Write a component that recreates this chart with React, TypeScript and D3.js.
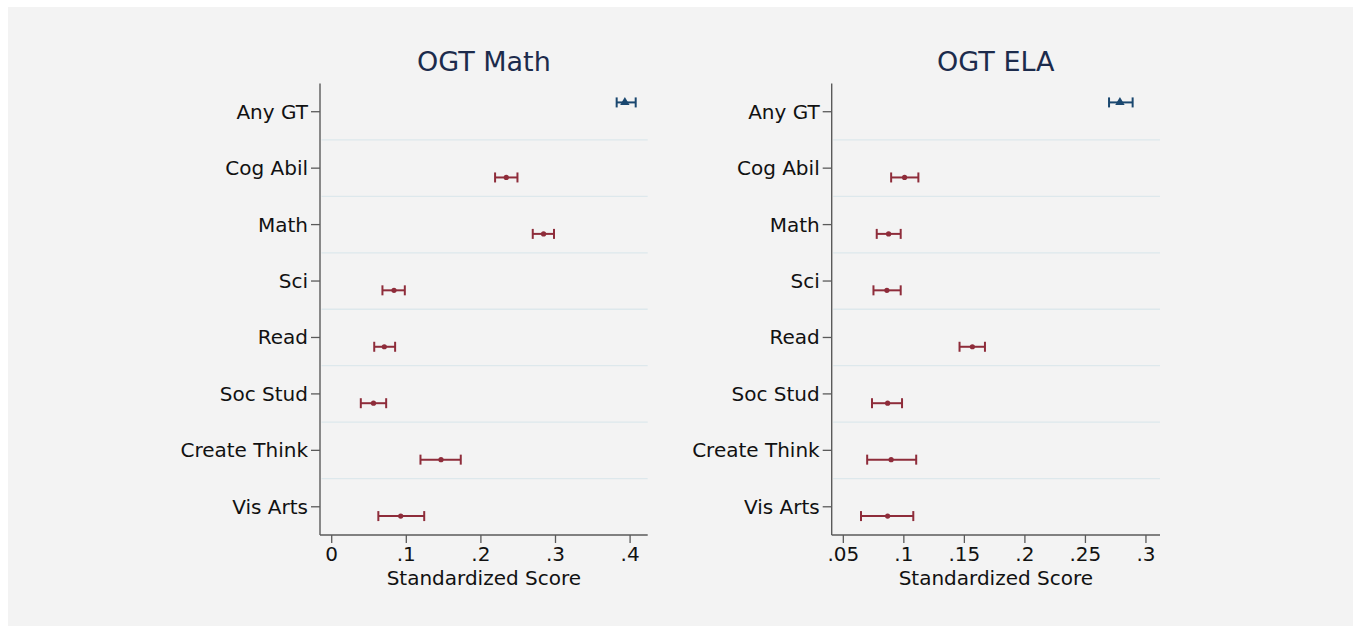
import React from 'react';
import * as d3 from 'd3';

// categories shown on the y axis (top to bottom)
const categories = ['Any GT', 'Cog Abil', 'Math', 'Sci', 'Read', 'Soc Stud', 'Create Think', 'Vis Arts'];

// OGT Math: point estimate and confidence interval
const mathEst = [0.393, 0.234, 0.284, 0.0835, 0.0705, 0.056, 0.1465, 0.0925];
const mathLo = [0.382, 0.219, 0.2695, 0.068, 0.057, 0.039, 0.119, 0.0625];
const mathHi = [0.4075, 0.249, 0.298, 0.098, 0.085, 0.073, 0.173, 0.124];
const mathTicks = [0, 0.1, 0.2, 0.3, 0.4];
const mathTickLabels = ['0', '.1', '.2', '.3', '.4'];
const mathDomain = [-0.0157, 0.4236];

// OGT ELA
const elaEst = [0.2785, 0.1006, 0.0874, 0.086, 0.1566, 0.0866, 0.0895, 0.0866];
const elaLo = [0.2695, 0.0895, 0.0776, 0.0749, 0.146, 0.0737, 0.0697, 0.0646];
const elaHi = [0.289, 0.112, 0.0974, 0.0974, 0.167, 0.0985, 0.1102, 0.1078];
const elaTicks = [0.05, 0.1, 0.15, 0.2, 0.25, 0.3];
const elaTickLabels = ['.05', '.1', '.15', '.2', '.25', '.3'];
const elaDomain = [0.0404, 0.3116];

// the two kinds of coefficient: overall GT vs. individual domains
const seriesNames = ['gt', 'domain'];

const W = 1353;
const H = 626;
const top = 83.5;
const bottom = 535;
const font = 'DejaVu Sans, Verdana, sans-serif';
const red = '#8e2c3a';
const blue = '#1a476f';
const axisColor = '#5a5a5a';

type PanelProps = {
  title: string;
  est: number[];
  lo: number[];
  hi: number[];
  domain: number[];
  ticks: number[];
  tickLabels: string[];
  x0: number;
  x1: number;
};

const Panel = ({ title, est, lo, hi, domain, ticks, tickLabels, x0, x1 }: PanelProps) => {
  const x = d3.scaleLinear().domain(domain).range([x0, x1]);
  const y = d3.scaleBand().domain(categories).range([top, bottom]);
  const mid = (c: string) => (y(c) ?? 0) + y.bandwidth() / 2;
  const off = d3.scalePoint().domain(seriesNames).range([-9.3, 9.3]);
  const tri = d3.symbol(d3.symbolTriangle, 38)() ?? '';

  return (
    <g>
      <text x={(x0 + x1) / 2} y={71} textAnchor="middle" fontSize={27} fill="#1c2b4c" fontFamily={font}>
        {title}
      </text>

      {/* gridlines between categories */}
      {categories.slice(1).map((c) => (
        <line key={'g' + c} x1={x0 + 1.5} x2={x1} y1={y(c)} y2={y(c)} stroke="#dde8ec" strokeWidth={1.3} />
      ))}

      {/* y axis */}
      <line x1={x0} x2={x0} y1={top} y2={bottom} stroke={axisColor} strokeWidth={1.4} />
      {categories.map((c) => (
        <g key={'y' + c}>
          <line x1={x0 - 9} x2={x0} y1={mid(c)} y2={mid(c)} stroke={axisColor} strokeWidth={1.3} />
          <text x={x0 - 12} y={mid(c)} dy="0.35em" textAnchor="end" fontSize={20} fontFamily={font} fill="#111">
            {c}
          </text>
        </g>
      ))}

      {/* x axis */}
      <line x1={x0} x2={x1} y1={bottom} y2={bottom} stroke={axisColor} strokeWidth={1.4} />
      {ticks.map((t, i) => (
        <g key={'x' + t}>
          <line x1={x(t)} x2={x(t)} y1={bottom} y2={bottom + 8} stroke={axisColor} strokeWidth={1.3} />
          <text x={x(t)} y={560.5} textAnchor="middle" fontSize={20} fontFamily={font} fill="#111">
            {tickLabels[i]}
          </text>
        </g>
      ))}
      <text x={(x0 + x1) / 2} y={584.5} textAnchor="middle" fontSize={20} fontFamily={font} fill="#111">
        Standardized Score
      </text>

      {/* coefficients with confidence intervals */}
      {categories.map((c, i) => {
        const s = i === 0 ? 'gt' : 'domain';
        const col = i === 0 ? blue : red;
        const cy = mid(c) + (off(s) ?? 0);
        return (
          <g key={'m' + c} stroke={col} strokeWidth={2}>
            <line x1={x(lo[i])} x2={x(hi[i])} y1={cy} y2={cy} />
            <line x1={x(lo[i])} x2={x(lo[i])} y1={cy - 5} y2={cy + 5} />
            <line x1={x(hi[i])} x2={x(hi[i])} y1={cy - 5} y2={cy + 5} />
            {i === 0 ? (
              <path d={tri} transform={`translate(${x(est[i])},${cy})`} fill={col} stroke="none" />
            ) : (
              <circle cx={x(est[i])} cy={cy} r={2.6} fill={col} stroke="none" />
            )}
          </g>
        );
      })}
    </g>
  );
};

export default function App() {
  return (
    <svg width={W} height={H} style={{ position: 'absolute', left: 0, top: 0 }}>
      <rect x={0} y={0} width={W} height={H} fill="#fff" />
      <rect x={8} y={7} width={W - 8} height={H - 7} fill="#f3f3f3" />
      <Panel
        title="OGT Math"
        est={mathEst}
        lo={mathLo}
        hi={mathHi}
        domain={mathDomain}
        ticks={mathTicks}
        tickLabels={mathTickLabels}
        x0={320}
        x1={647.7}
      />
      <Panel
        title="OGT ELA"
        est={elaEst}
        lo={elaLo}
        hi={elaHi}
        domain={elaDomain}
        ticks={elaTicks}
        tickLabels={elaTickLabels}
        x0={831.7}
        x1={1160}
      />
    </svg>
  );
}
